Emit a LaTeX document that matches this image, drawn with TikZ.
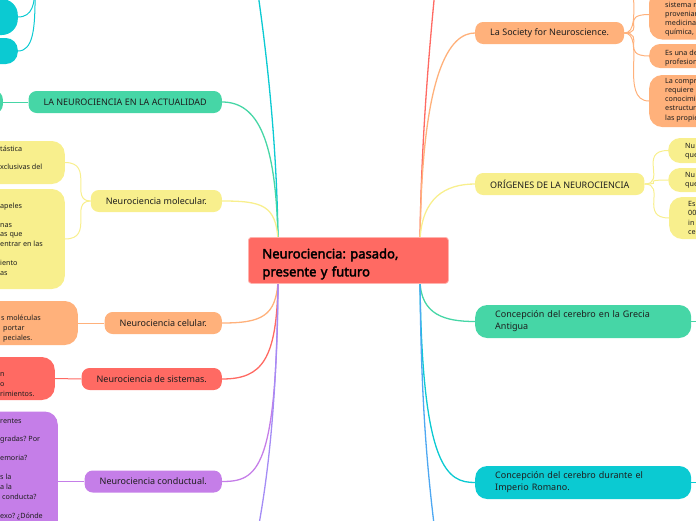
\documentclass[tikz,border=0pt]{standalone}
\usepackage{fontspec}
\setmainfont{Noto Sans}[BoldFont={Noto Sans}, BoldFeatures={FakeBold=2.6}]
\usetikzlibrary{calc}
\definecolor{cyanC}{HTML}{0BCAD2}
\definecolor{greenC}{HTML}{46D6A6}
\definecolor{yellowC}{HTML}{F8EF8D}
\definecolor{orangeC}{HTML}{FFB17B}
\definecolor{redC}{HTML}{FF6A63}
\definecolor{purpleC}{HTML}{C57EE8}
\definecolor{lavC}{HTML}{A48CF5}
\definecolor{blueC}{HTML}{4EA8F2}
\definecolor{rootB}{HTML}{FFB3AE}
\definecolor{txt}{HTML}{1E1E1E}
\pgfdeclarelayer{bg}
\pgfsetlayers{bg,main}
\frenchspacing
\begin{document}
\begin{tikzpicture}[x=1pt,y=-1pt,
  branch/.style={rounded corners=8pt, minimum height=22pt, inner xsep=15pt, inner ysep=0pt,
    font=\fontsize{9}{11}\selectfont, text=txt},
  wide/.style={rounded corners=12pt, minimum height=33pt, text width=176pt, inner xsep=20pt,
    inner ysep=0pt, align=left, font=\fontsize{9}{12}\selectfont, text=txt, anchor=west},
  subbox/.style={rounded corners=13pt, inner sep=0pt, minimum width=150pt},
  frag/.style={font=\fontsize{7.2}{9}\selectfont, inner sep=0pt, anchor=base west, text=txt},
  conn/.style={line width=1.3pt},
  subconn/.style={line width=1pt}]
\useasboundingbox (0,0) rectangle (696,520);
\clip (0,0) rectangle (696,520);

% root
\node[fill=redC, draw=rootB, line width=0.8pt, rounded corners=3pt, minimum width=200pt,
  minimum height=46pt, text width=172pt, align=left, inner xsep=14pt, inner ysep=0pt,
  font=\bfseries\fontsize{13}{18}\selectfont, text=black, anchor=north west]
  (root) at (248,237) {\rule{0pt}{17pt}Neurociencia: pasado,\\presente y futuro};
\coordinate (rtl) at (278,240);
\coordinate (rbl) at (278,281);
\coordinate (rtr) at (420,240);
\coordinate (rbr) at (420,281);

% left branches
\node[branch, fill=greenC, anchor=east] (neuro) at (222,102) {LA NEUROCIENCIA EN LA ACTUALIDAD};
\node[branch, fill=yellowC, anchor=east] (mol) at (222,201) {Neurociencia molecular.};
\node[branch, fill=orangeC, anchor=east] (cel) at (222,323) {Neurociencia celular.};
\node[branch, fill=redC, anchor=east] (sis) at (222,379) {Neurociencia de sistemas.};
\node[branch, fill=purpleC, anchor=east] (cond) at (222,481.5) {Neurociencia conductual.};
\coordinate (cyanTop) at (256,-20);
\coordinate (lavBot) at (256,540);

% right branches
\node[branch, fill=orangeC, anchor=west] (soc) at (475,33) {La Society for Neuroscience.};
\node[branch, fill=yellowC, anchor=west] (ori) at (475,184) {ORÍGENES DE LA NEUROCIENCIA};
\node[wide, fill=greenC] (gre) at (475,321.5) {Concepción del cerebro en la Grecia\\Antigua};
\node[wide, fill=cyanC] (imp) at (475,482.5) {Concepción del cerebro durante el\\Imperio Romano.};
\coordinate (redTop) at (436,-20);
\coordinate (blueBot) at (436,540);
\coordinate (greR) at (705,321.5);
\coordinate (impR) at (705,482.5);

% left sub nodes
\node[subbox, rounded corners=16pt, fill=cyanC, minimum height=36pt, anchor=east] (t1) at (18,17) {};
\node[subbox, rounded corners=12pt, fill=cyanC, minimum height=26pt, anchor=east] (t2) at (18,51) {};
\coordinate (cpar) at (46,-40);
\node[subbox, rounded corners=8pt, fill=greenC, minimum height=22pt, anchor=east] (g1) at (3,102) {};
\node[subbox, fill=yellowC, minimum height=43pt, anchor=east] (m1) at (65,162.5) {};
\node[subbox, fill=yellowC, minimum height=100pt, anchor=east] (m2) at (65,239) {};
\node[subbox, fill=orangeC, minimum height=44pt, anchor=east] (c1) at (78,323) {};
\node[subbox, fill=redC, minimum height=43pt, anchor=east] (s1) at (55,378.5) {};
\node[subbox, fill=purpleC, minimum height=140pt, anchor=east] (b1) at (58,481.5) {};

% right sub nodes
\node[subbox, fill=orangeC, minimum height=50pt, anchor=west] (so1) at (649,14.5) {};
\node[subbox, rounded corners=11pt, fill=orangeC, minimum height=24pt, anchor=west] (so2) at (649,56) {};
\node[subbox, fill=orangeC, minimum height=52pt, anchor=west] (so3) at (649,101) {};
\coordinate (so0) at (649,-40);
\node[subbox, rounded corners=12pt, fill=yellowC, minimum height=25pt, anchor=west] (o1) at (668,150.5) {};
\node[subbox, rounded corners=12pt, fill=yellowC, minimum height=24pt, anchor=west] (o2) at (668,180) {};
\node[subbox, fill=yellowC, minimum height=42pt, anchor=west] (o3) at (669,218) {};

% fragments (left)
\node[frag] (m1a) at (0,151.5) {tástica};
\node[frag] (m1b) at (0,169.5) {xclusivas del};
\node[frag] (m2a) at (0,208.5) {apeles};
\node[frag] (m2b) at (0,227.5) {nas};
\node[frag] (m2c) at (0,236.5) {as que};
\node[frag] (m2d) at (0,246) {entrar en las};
\node[frag] (m2e) at (0,265.5) {iento};
\node[frag] (m2f) at (0,275) {as};
\node[frag] (c1a) at (1,320.5) {s moléculas};
\node[frag] (c1b) at (3,330.5) {portar};
\node[frag] (c1c) at (3,340.5) {peciales.};
\node[frag] (s1a) at (0,376.5) {n};
\node[frag] (s1b) at (0,386.5) {o};
\node[frag] (s1c) at (0,396) {rimientos.};
\node[frag] (b1a) at (0,423.5) {rentes};
\node[frag] (b1b) at (0,441.5) {gradas? Por};
\node[frag] (b1c) at (0,460.5) {emoria?};
\node[frag] (b1d) at (0,479.5) {s la};
\node[frag] (b1e) at (0,489.5) {a la};
\node[frag] (b1f) at (2,499.5) {conducta?};
\node[frag] (b1g) at (0,518.5) {exo? ¿Dónde};

% fragments (right)
\node[frag] (so1a) at (665,7.5) {sistema n};
\node[frag] (so1b) at (665,16.5) {provenian};
\node[frag] (so1c) at (665,25.5) {medicina};
\node[frag] (so1d) at (665,34.5) {química,};
\node[frag] (so2a) at (665,55.5) {Es una de};
\node[frag] (so2b) at (665,64.5) {profesion};
\node[frag] (so3a) at (665,83.5) {La compr};
\node[frag] (so3b) at (665,92.5) {requiere};
\node[frag] (so3c) at (665,101.5) {conocimie};
\node[frag] (so3d) at (665,110.5) {estructur};
\node[frag] (so3e) at (665,120.5) {las propie};
\node[frag] (o1a) at (685,148.5) {Nu};
\node[frag] (o1b) at (685,157.5) {que};
\node[frag] (o2a) at (685,177.5) {Nu};
\node[frag] (o2b) at (685,186.5) {que};
\node[frag] (o3a) at (688,206.5) {Es};
\node[frag] (o3b) at (688,215.5) {00};
\node[frag] (o3c) at (688,225.5) {in};
\node[frag] (o3d) at (688,234.5) {ce};

\begin{pgfonlayer}{bg}
% main connectors left
\draw[conn, cyanC] (rtl) .. controls (277,150) and (268,60) .. (cyanTop);
\draw[conn, greenC] (rtl) .. controls (276,140) and (258,102) .. (neuro.east);
\draw[conn, yellowC] (rtl) .. controls (276,205) and (262,201) .. (mol.east);
\draw[conn, orangeC] (rbl) .. controls (276,316) and (262,323) .. (cel.east);
\draw[conn, redC] (rbl) .. controls (277,360) and (262,379) .. (sis.east);
\draw[conn, purpleC] (rbl) .. controls (277,470) and (258,481.5) .. (cond.east);
\draw[conn, lavC] (rbl) .. controls (277,400) and (268,480) .. (lavBot);
% main connectors right
\draw[conn, redC] (rtr) .. controls (421,150) and (428,60) .. (redTop);
\draw[conn, orangeC] (rtr) .. controls (422,70) and (450,33) .. (soc.west);
\draw[conn, yellowC] (rtr) .. controls (422,198) and (445,184) .. (ori.west);
\draw[conn, greenC] (rbr) .. controls (421,315) and (445,321.5) .. (gre.west);
\draw[conn, cyanC] (rbr) .. controls (422,470) and (448,482.5) .. (imp.west);
\draw[conn, blueC] (rbr) .. controls (421,400) and (427,470) .. (blueBot);
% sub connectors
\draw[subconn, cyanC] (cpar) .. controls +(-22,0) and +(30,0) .. (t1.east);
\draw[subconn, cyanC] (cpar) .. controls +(-22,0) and +(30,0) .. (t2.east);
\draw[subconn, greenC] (neuro.west) -- (g1.east);
\draw[subconn, yellowC] (mol.west) .. controls +(-22,0) and +(30,0) .. (m1.east);
\draw[subconn, yellowC] (mol.west) .. controls +(-22,0) and +(30,0) .. (m2.east);
\draw[subconn, orangeC] (cel.west) -- (c1.east);
\draw[subconn, redC] (sis.west) -- (s1.east);
\draw[subconn, purpleC] (cond.west) -- (b1.east);
\draw[subconn, orangeC] (soc.east) .. controls +(22,0) and +(-30,0) .. (so0);
\draw[subconn, orangeC] (soc.east) .. controls +(22,0) and +(-30,0) .. (so1.west);
\draw[subconn, orangeC] (soc.east) .. controls +(22,0) and +(-30,0) .. (so2.west);
\draw[subconn, orangeC] (soc.east) .. controls +(22,0) and +(-30,0) .. (so3.west);
\draw[subconn, yellowC] (ori.east) .. controls +(22,0) and +(-30,0) .. (o1.west);
\draw[subconn, yellowC] (ori.east) .. controls +(22,0) and +(-30,0) .. (o2.west);
\draw[subconn, yellowC] (ori.east) .. controls +(22,0) and +(-30,0) .. (o3.west);
\draw[subconn, greenC] (gre.east) -- (greR);
\draw[subconn, cyanC] (imp.east) -- (impR);
\end{pgfonlayer}
\end{tikzpicture}
\end{document}
